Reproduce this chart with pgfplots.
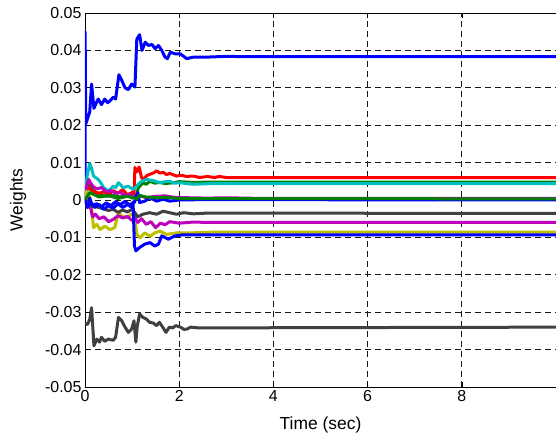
\documentclass[border=0pt]{standalone}
\usepackage{pgfplots}
\pgfplotsset{compat=1.18}
\usepackage{fontspec}
\setmainfont{Liberation Sans}
\definecolor{mb}{rgb}{0,0,1}
\definecolor{mg}{rgb}{0,0.5,0}
\definecolor{mr}{rgb}{1,0,0}
\definecolor{mc}{rgb}{0,0.75,0.75}
\definecolor{mm}{rgb}{0.75,0,0.75}
\definecolor{my}{rgb}{0.75,0.75,0}
\definecolor{mk}{rgb}{0.25,0.25,0.25}
\begin{document}
\begin{tikzpicture}
\begin{axis}[
  scale only axis, width=471bp, height=374bp,
  xmin=0, xmax=10, ymin=-0.05, ymax=0.05,
  scaled y ticks=false, scaled x ticks=false,
  axis x line=box, axis y line=left,
  axis line style={-, line width=0.8bp, black},
  xtick={0,2,4,6,8}, xticklabels={0,2,4,6,8},
  ytick={-0.05,-0.04,-0.03,-0.02,-0.01,0,0.01,0.02,0.03,0.04,0.05},
  yticklabels={-0.05,-0.04,-0.03,-0.02,-0.01,0,0.01,0.02,0.03,0.04,0.05},
  tick label style={font=\fontsize{16}{19}\selectfont},
  tick align=inside, major tick length=5bp,
  tick style={black, line width=0.6bp},
  grid=major,
  major grid style={dash pattern=on 6bp off 4bp, black!90, line width=0.7bp},
  every axis y label/.style={at={(axis description cs:0,0.5)}, xshift=-67bp, rotate=90, anchor=center, font=\fontsize{17.5}{20}\selectfont},
  every axis x label/.style={at={(axis description cs:0.5,0)}, yshift=-38bp, anchor=center, font=\fontsize{17.5}{20}\selectfont},
  xlabel={Time (sec)}, ylabel={Weights},
  every axis plot/.append style={line width=3bp, line join=round},
]
% 1 top blue
\addplot[mb] coordinates {(0,0) (0.003,0.045) (0.015,0.0203) (0.06,0.022) (0.1,0.0235) (0.14,0.031) (0.19,0.0245) (0.24,0.026) (0.28,0.027) (0.35,0.0255) (0.42,0.027) (0.48,0.026) (0.53,0.0265) (0.6,0.0275) (0.65,0.027) (0.72,0.0335) (0.78,0.032) (0.85,0.030) (0.92,0.0295) (0.99,0.031) (1.06,0.0302) (1.1,0.043) (1.16,0.0442) (1.21,0.040) (1.28,0.0422) (1.35,0.0413) (1.42,0.0416) (1.49,0.0405) (1.56,0.0413) (1.63,0.040) (1.70,0.0382) (1.75,0.0378) (1.81,0.0395) (1.91,0.0391) (2.02,0.0391) (2.16,0.0378) (2.30,0.0382) (2.58,0.0382) (3.0,0.0384) (3.6,0.0383) (10,0.0383)};
% 2 green
\addplot[mg] coordinates {(0,0) (0.05,0.003) (0.1,0.004) (0.18,0.0025) (0.3,0.0015) (0.45,0.001) (0.6,0.0012) (0.75,0.0008) (0.9,0.0015) (1.0,0.0005) (1.05,0.001) (1.1,0.0015) (1.13,0.0032) (1.23,0.0046) (1.3,0.0042) (1.38,0.005) (1.48,0.0045) (1.59,0.0047) (1.7,0.0044) (1.87,0.0046) (2.0,0.0049) (2.3,0.0047) (2.7,0.0048) (10,0.0048)};
% 3 red
\addplot[mr] coordinates {(0,0) (0.05,0.004) (0.1,0.003) (0.2,0.0022) (0.3,0.0018) (0.4,0.0022) (0.5,0.0015) (0.6,0.0025) (0.7,0.0018) (0.8,0.0028) (0.9,0.0014) (1.0,0.002) (1.04,0.0016) (1.06,0.0087) (1.1,0.0075) (1.15,0.0088) (1.2,0.006) (1.24,0.0055) (1.31,0.0065) (1.38,0.0069) (1.45,0.0072) (1.52,0.0078) (1.59,0.0072) (1.66,0.0074) (1.73,0.0068) (1.8,0.0071) (1.94,0.0064) (2.05,0.0066) (2.15,0.0063) (2.3,0.0064) (2.44,0.006) (2.6,0.0063) (2.75,0.006) (2.85,0.0063) (3.0,0.006) (10,0.006)};
% 4 cyan
\addplot[mc] coordinates {(0,0) (0.04,0.006) (0.1,0.0098) (0.14,0.0085) (0.18,0.0064) (0.28,0.0055) (0.34,0.0045) (0.39,0.0034) (0.49,0.0024) (0.55,0.003) (0.6,0.0037) (0.65,0.0033) (0.71,0.0046) (0.76,0.004) (0.81,0.0033) (0.92,0.0037) (1.02,0.0028) (1.08,0.0035) (1.13,0.0042) (1.2,0.005) (1.31,0.0055) (1.45,0.0052) (1.59,0.0046) (1.7,0.0049) (1.8,0.005) (1.9,0.0045) (2.01,0.0046) (2.3,0.0042) (2.72,0.0044) (10,0.0044)};
% 5 magenta upper
\addplot[mm] coordinates {(0,0) (0.04,0.004) (0.08,0.0055) (0.12,0.0045) (0.18,0.0035) (0.25,0.003) (0.35,0.0033) (0.45,0.0022) (0.55,0.0025) (0.65,0.0018) (0.75,0.002) (0.85,0.0012) (0.95,0.0015) (1.05,0.0008) (1.15,0.0012) (1.3,0.0006) (1.5,0.001) (1.7,0.0011) (1.9,0.0007) (2.2,0.0006) (2.6,0.0005) (3.0,0.0006) (3.8,0.0004) (10,0.0004)};
% 6 yellow
\addplot[my] coordinates {(0,0) (0.03,0.0024) (0.06,-0.002) (0.1,0.001) (0.14,-0.002) (0.18,-0.0074) (0.25,-0.0065) (0.32,-0.0079) (0.42,-0.007) (0.53,-0.0079) (0.63,-0.0074) (0.71,-0.0034) (0.78,-0.0043) (0.88,-0.0047) (0.99,-0.0038) (1.06,-0.0047) (1.1,-0.0092) (1.17,-0.0101) (1.27,-0.0088) (1.38,-0.0097) (1.48,-0.0088) (1.59,-0.0083) (1.73,-0.0092) (1.94,-0.0088) (2.23,-0.0088) (2.72,-0.0086) (10,-0.0086)};
% 7 bottom dark gray
\addplot[mk] coordinates {(0,-0.033) (0.05,-0.0333) (0.1,-0.032) (0.14,-0.0288) (0.19,-0.039) (0.25,-0.0372) (0.31,-0.038) (0.35,-0.0367) (0.42,-0.0378) (0.49,-0.0372) (0.6,-0.0375) (0.65,-0.0367) (0.71,-0.0314) (0.78,-0.0323) (0.85,-0.034) (0.92,-0.0354) (0.99,-0.0345) (1.04,-0.0323) (1.08,-0.038) (1.11,-0.0337) (1.16,-0.0305) (1.23,-0.0314) (1.3,-0.0318) (1.37,-0.0327) (1.45,-0.0329) (1.52,-0.0336) (1.58,-0.0327) (1.65,-0.034) (1.72,-0.0354) (1.79,-0.034) (1.86,-0.0342) (1.93,-0.0336) (2.03,-0.034) (2.1,-0.0346) (2.17,-0.0345) (2.24,-0.034) (2.41,-0.0342) (10,-0.034)};
% 8 blue middle
\addplot[mb] coordinates {(0,0) (0.05,-0.001) (0.1,0.0005) (0.15,-0.0015) (0.25,-0.001) (0.35,-0.0018) (0.45,-0.0008) (0.55,-0.0015) (0.65,-0.0005) (0.75,-0.0012) (0.85,-0.0004) (0.95,-0.0013) (1.05,-0.0006) (1.12,0.002) (1.16,-0.0007) (1.27,-0.0003) (1.38,0.0006) (1.52,-0.0003) (1.66,0.0002) (1.8,-0.0003) (2.0,0) (2.5,0.0001) (10,0)};
% 9 green 2
\addplot[mg] coordinates {(0,0) (0.1,0.002) (0.3,0.0008) (0.5,0.0012) (0.7,0.0004) (0.9,0.001) (1.1,0.0003) (1.15,0.0012) (1.3,0.0008) (1.5,0.0006) (1.7,0.0007) (2.0,0.0004) (10,0.0003)};
% 12 magenta lower
\addplot[mm] coordinates {(0,0) (0.05,-0.002) (0.1,-0.001) (0.16,-0.0045) (0.22,-0.0038) (0.3,-0.005) (0.4,-0.0045) (0.5,-0.0058) (0.6,-0.0052) (0.7,-0.0042) (0.8,-0.0048) (0.9,-0.0044) (1.0,-0.0055) (1.06,-0.0047) (1.12,-0.006) (1.2,-0.005) (1.3,-0.0065) (1.4,-0.0058) (1.5,-0.0074) (1.6,-0.0062) (1.7,-0.0066) (1.8,-0.0058) (2.0,-0.0062) (2.3,-0.0059) (2.6,-0.006) (10,-0.006)};
% 14 dark gray middle
\addplot[mk] coordinates {(0,0) (0.1,-0.0015) (0.3,-0.002) (0.5,-0.0028) (0.6,-0.0025) (0.7,-0.0033) (0.8,-0.0027) (0.9,-0.0032) (1.0,-0.0025) (1.06,-0.0034) (1.12,-0.0045) (1.23,-0.0038) (1.37,-0.0034) (1.52,-0.0038) (1.66,-0.003) (1.8,-0.0034) (1.94,-0.0038) (2.1,-0.0034) (2.3,-0.0037) (2.6,-0.0035) (10,-0.0036)};
% 15 blue lower
\addplot[mb] coordinates {(0,0) (0.05,-0.002) (0.12,-0.0005) (0.2,-0.002) (0.3,-0.0012) (0.4,-0.0025) (0.5,-0.0015) (0.6,-0.0022) (0.7,-0.001) (0.8,-0.002) (0.9,-0.0012) (1.0,-0.002) (1.02,-0.0005) (1.05,-0.0122) (1.08,-0.0136) (1.16,-0.0127) (1.27,-0.0118) (1.38,-0.0114) (1.48,-0.0123) (1.56,-0.0118) (1.63,-0.0096) (1.77,-0.0105) (1.91,-0.0096) (2.08,-0.0093) (2.37,-0.0093) (10,-0.0093)};
\end{axis}
\pgfresetboundingbox
\useasboundingbox ([xshift=-85bp,yshift=-51bp]current axis.south west) rectangle ([yshift=13bp]current axis.north east);
\end{tikzpicture}
\end{document}
